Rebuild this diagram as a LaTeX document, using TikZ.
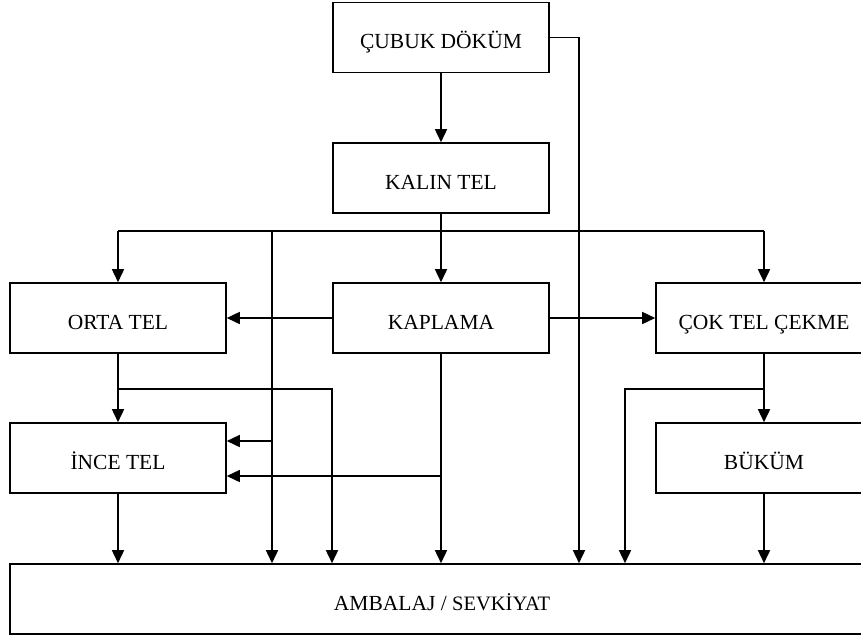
\documentclass[tikz,border=0pt]{standalone}
\usepackage{fontspec}
\setmainfont{Liberation Serif}
\usetikzlibrary{arrows.meta}

\begin{document}
\begin{tikzpicture}[x=1pt, y=-1pt, line width=1.6pt,
    box/.style={draw, line width=1.6pt, minimum width=216pt, minimum height=70pt,
        inner sep=0pt, text height=22pt, text depth=0pt,
        font=\fontsize{21.5}{25}\selectfont},
    arr/.style={-{Triangle[length=13pt, width=12pt]}}]
    \useasboundingbox (0,0) rectangle (861,638);

    % Process boxes (right column runs past the page edge)
    \node[box] (cubuk) at (441,37.5) {ÇUBUK DÖKÜM};
    \node[box] (kalin) at (441,178) {KALIN TEL};
    \node[box] (orta) at (118,318) {ORTA TEL};
    \node[box] (kaplama) at (441,318) {KAPLAMA};
    \node[box] (cok) at (764,318) {ÇOK TEL ÇEKME};
    \node[box] (ince) at (118,458) {İNCE TEL};
    \node[box] (bukum) at (764,458) {BÜKÜM};
    \node[box, minimum width=864pt] (ambalaj) at (442,599)
        {AMBALAJ / {\fontsize{20.5}{24}\selectfont SEVKİYAT}};

    % Junction points
    \coordinate (busL) at (118,231);
    \coordinate (busM) at (272,231);
    \coordinate (busR) at (764,231);
    \coordinate (cubukR) at (579,37.5);
    \coordinate (ortaB) at (118,389);
    \coordinate (ortaC) at (332,389);
    \coordinate (cokB) at (764,389);
    \coordinate (cokC) at (625,389);
    \coordinate (inceA) at (272,441);
    \coordinate (inceB) at (441,476);

    % Top part
    \draw[arr] (cubuk) -- (kalin);
    \draw[arr] (cubuk.east) -| (cubukR |- ambalaj.north);
    \draw[arr] (kalin) -- (kaplama);
    \draw (busL) -- (busR);
    \draw[arr] (busL) -- (orta);
    \draw[arr] (busR) -- (cok);
    \draw[arr] (busM) -- (busM |- ambalaj.north);

    % Middle row
    \draw[arr] (kaplama) -- (orta);
    \draw[arr] (kaplama) -- (cok);
    \draw[arr] (orta) -- (ince);
    \draw[arr] (ortaB) -| (ortaC |- ambalaj.north);
    \draw[arr] (cok) -- (bukum);
    \draw[arr] (cokB) -| (cokC |- ambalaj.north);
    \draw[arr] (kaplama) -- (kaplama.south |- ambalaj.north);
    \draw[arr] (inceA) -- (inceA -| ince.east);
    \draw[arr] (inceB) -- (inceB -| ince.east);

    % Into packaging
    \draw[arr] (ince) -- (ince.south |- ambalaj.north);
    \draw[arr] (bukum) -- (bukum.south |- ambalaj.north);

\end{tikzpicture}
\end{document}
